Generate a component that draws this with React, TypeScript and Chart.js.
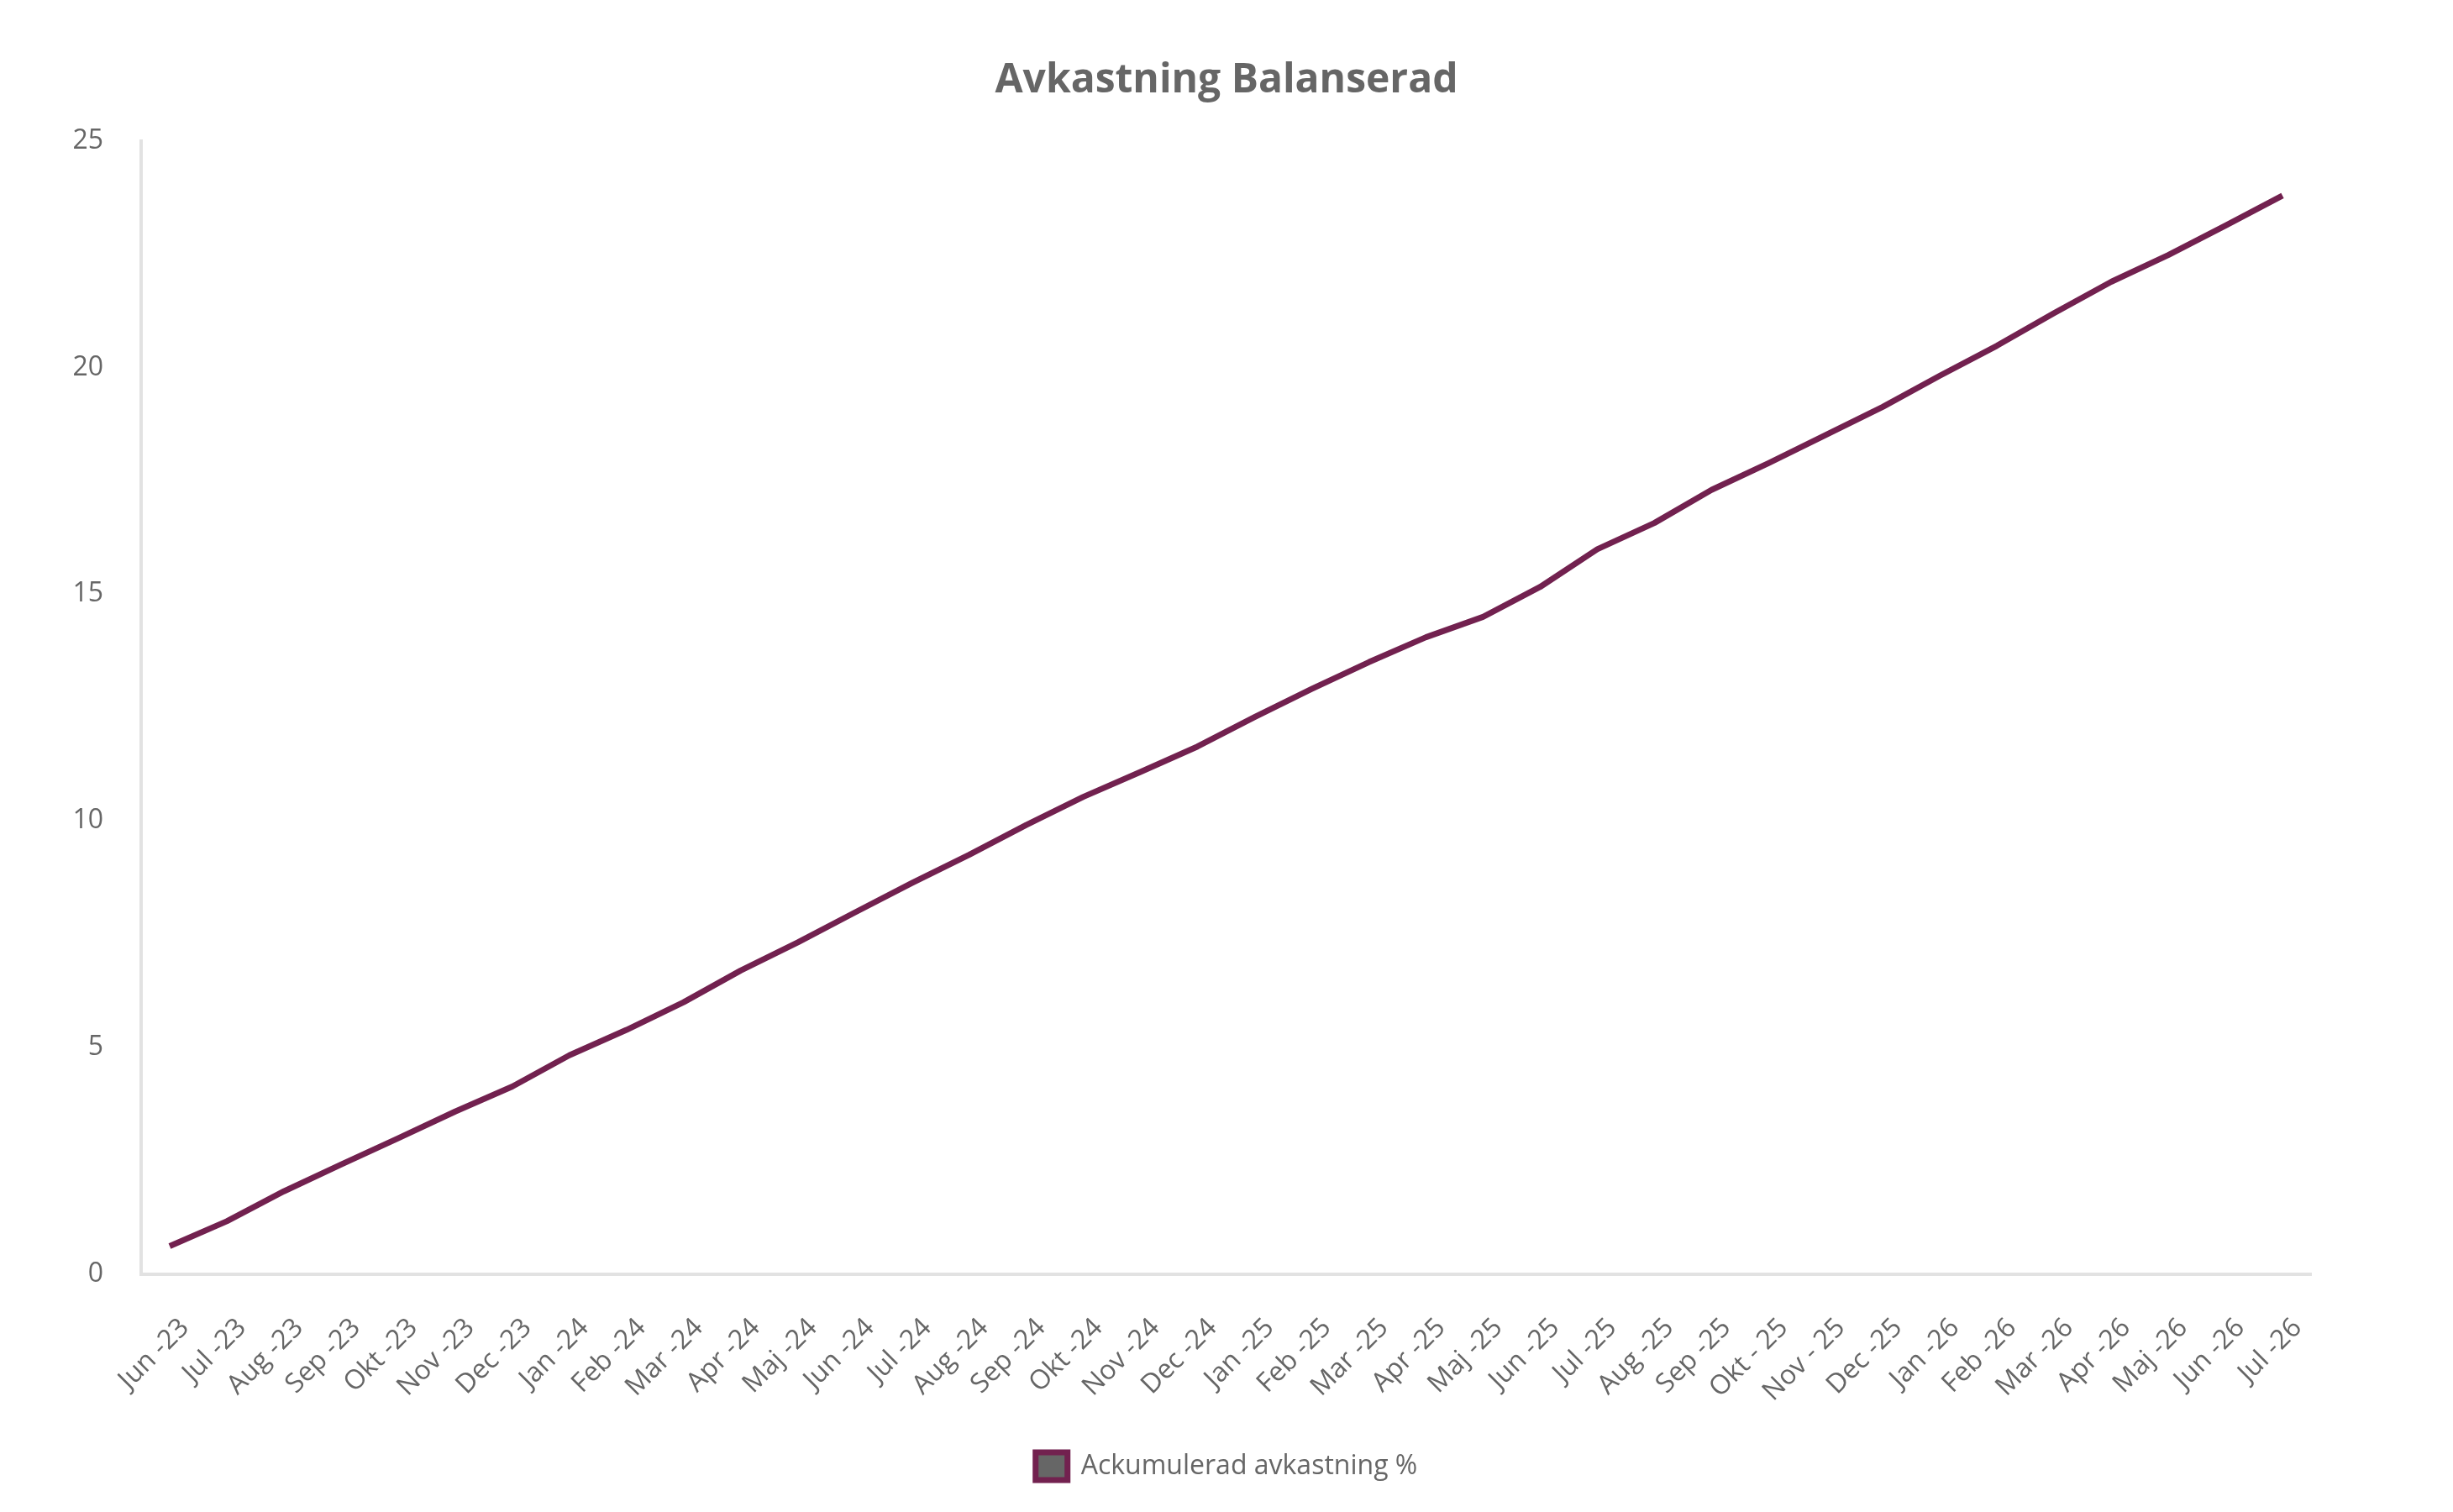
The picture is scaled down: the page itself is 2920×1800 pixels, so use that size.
import React, { useEffect, useRef } from "react";
import { Chart, registerables } from "chart.js";

Chart.register(...registerables);

const TITLE = "Avkastning Balanserad";
const SERIES_LABEL = "Ackumulerad avkastning %";

const months: string[] = [
  "Jun -23", "Jul -23", "Aug -23", "Sep -23", "Okt -23", "Nov -23", "Dec -23",
  "Jan -24", "Feb -24", "Mar -24", "Apr -24", "Maj -24", "Jun -24", "Jul -24",
  "Aug -24", "Sep -24", "Okt -24", "Nov -24", "Dec -24",
  "Jan -25", "Feb -25", "Mar -25", "Apr -25", "Maj -25", "Jun -25", "Jul -25",
  "Aug -25", "Sep -25", "Okt - 25", "Nov - 25", "Dec -25",
  "Jan -26", "Feb -26", "Mar -26", "Apr -26", "Maj -26", "Jun -26", "Jul -26",
];

const cumulativeReturn: number[] = [
  0.62, 1.17, 1.83, 2.42, 3.0, 3.59, 4.14,
  4.83, 5.39, 6.0, 6.7, 7.32, 7.98, 8.63,
  9.25, 9.91, 10.53, 11.08, 11.64,
  12.29, 12.91, 13.5, 14.05, 14.5, 15.16, 15.99,
  16.57, 17.3, 17.89, 18.51, 19.13,
  19.82, 20.48, 21.2, 21.89, 22.48, 23.13, 23.79,
];

const yTicks: number[] = [0, 5, 10, 15, 20, 25];

const LINE_COLOR = "#72214f";
const TEXT_COLOR = "#666666";
const AXIS_COLOR = "#e2e2e2";
const FONT = "'Open Sans', 'Noto Sans', sans-serif";

export default function App() {
  const canvasRef = useRef<HTMLCanvasElement | null>(null);

  useEffect(() => {
    document.body.style.margin = "0";
    const canvas = canvasRef.current;
    if (!canvas) return;
    const chart = new Chart(canvas, {
      type: "line",
      data: {
        labels: months,
        datasets: [
          {
            label: SERIES_LABEL,
            data: cumulativeReturn,
            borderColor: LINE_COLOR,
            backgroundColor: "#666666",
            borderWidth: 7,
            pointRadius: 0,
            pointHoverRadius: 0,
            tension: 0,
            fill: false,
            borderCapStyle: "butt",
            borderJoinStyle: "round",
          },
        ],
      },
      options: {
        animation: false,
        responsive: true,
        maintainAspectRatio: false,
        devicePixelRatio: 1,
        layout: { padding: { left: 0, right: 0, top: 0, bottom: 28 } },
        plugins: {
          title: {
            display: true,
            text: TITLE,
            color: TEXT_COLOR,
            font: { family: FONT, size: 48, weight: "bold", lineHeight: 1.2 },
            padding: { top: 68, bottom: 42 },
          },
          legend: {
            display: true,
            position: "bottom",
            labels: {
              color: TEXT_COLOR,
              font: { family: FONT, size: 32 },
              boxWidth: 38,
              boxHeight: 33,
              padding: 38,
              generateLabels: (c: any) => {
                const items = Chart.defaults.plugins.legend.labels.generateLabels(c);
                return items.map((it: any) => ({
                  ...it,
                  fillStyle: "#666666",
                  strokeStyle: LINE_COLOR,
                  lineWidth: 7,
                  lineCap: "butt",
                  lineJoin: "miter",
                  lineDash: [],
                }));
              },
            },
          },
          tooltip: { enabled: false },
        },
        scales: {
          x: {
            type: "category",
            offset: true,
            grid: { display: false, drawTicks: false },
            border: { display: true, color: AXIS_COLOR, width: 4 },
            ticks: {
              color: TEXT_COLOR,
              font: { family: FONT, size: 32 },
              maxRotation: 45,
              minRotation: 45,
              autoSkip: false,
              padding: 45,
              labelOffset: 18,
            },
            afterFit: (scale: any) => {
              scale.height = 174;
            },
          },
          y: {
            position: "left",
            min: 0,
            max: 25,
            afterBuildTicks: (scale: any) => {
              scale.ticks = yTicks.map((v) => ({ value: v }));
            },
            grid: { display: false, drawTicks: false },
            border: { display: true, color: AXIS_COLOR, width: 4 },
            ticks: {
              color: TEXT_COLOR,
              font: { family: FONT, size: 32 },
              padding: 45,
            },
            afterFit: (scale: any) => {
              scale.width = 168;
            },
          },
          rightSpace: {
            type: "linear",
            position: "right",
            display: true,
            min: 0,
            max: 25,
            grid: { display: false, drawTicks: false },
            border: { display: false },
            ticks: { display: false },
            afterFit: (scale: any) => {
              scale.width = 169;
            },
          },
        },
      },
    });
    return () => chart.destroy();
  }, []);

  return (
    <div style={{ position: "fixed", left: 0, top: 0, width: "2920px", height: "1800px", background: "#ffffff" }}>
      <canvas ref={canvasRef} />
    </div>
  );
}
